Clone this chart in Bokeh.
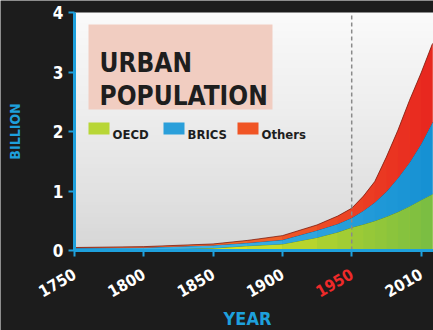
import numpy as np
from math import pi
from bokeh.plotting import figure
from bokeh.models import Label, FixedTicker, BoxAnnotation, Range1d, LinearAxis
from bokeh.embed import file_html
from bokeh.resources import INLINE

# ---------------- data (billion urban dwellers) ----------------
years = [1750, 1800, 1850, 1875, 1900, 1925, 1940, 1950, 1960, 1970, 1980, 1990, 2000, 2010, 2020]
oecd = [0.01, 0.015, 0.04, 0.08, 0.11, 0.22, 0.31, 0.39, 0.44, 0.50, 0.57, 0.65, 0.745, 0.85, 0.95]
brics = [0.03, 0.035, 0.05, 0.05, 0.07, 0.12, 0.14, 0.16, 0.23, 0.31, 0.42, 0.57, 0.735, 0.94, 1.21]
others = [0.01, 0.015, 0.02, 0.04, 0.07, 0.09, 0.13, 0.16, 0.24, 0.35, 0.58, 0.80, 1.04, 1.19, 1.32]
series_names = ["OECD", "BRICS", "Others"]
tick_years = [1750, 1800, 1850, 1900, 1950, 2010]
y_ticks = [0, 1, 2, 3, 4]
highlight_year = 1950

# ---------------- styling ----------------
FONT = "DejaVu Sans Condensed"
CYAN = "#1ea0dc"
BG = "#1c1c1c"
W, H = 433, 330
ORIGIN_PX, ORIGIN_PY = 74, 250      # where (first tick, 0) sits on the canvas
PX_PER_X, PX_PER_Y = 69.3, 59.5
X_END = (W - ORIGIN_PX) / PX_PER_X
Y_END = 4.0

tick_idx = np.arange(len(tick_years), dtype=float)


def year_to_pos(y):
    y = np.asarray(y, dtype=float)
    last_step = tick_years[-1] - tick_years[-2]
    return np.where(y <= tick_years[-1], np.interp(y, tick_years, tick_idx),
                    tick_idx[-1] + (y - tick_years[-1]) / last_step)


def sx(px):  # canvas px -> data x (decorations only)
    return (px - ORIGIN_PX) / PX_PER_X


def sy(py):  # canvas px -> data y (decorations only)
    return (ORIGIN_PY - py) / PX_PER_Y


p = figure(width=W, height=H, output_backend="svg", toolbar_location=None,
           x_range=Range1d(sx(0), sx(W)), y_range=Range1d(sy(H), sy(0)),
           x_axis_location=None, y_axis_location=None,
           min_border=0)
p.border_fill_color = BG
p.background_fill_color = BG
p.outline_line_color = None
p.grid.visible = False

# light gradient backdrop of the chart area
n = 64
rgba = np.zeros((n, 1, 4), dtype=np.uint8)
t = np.linspace(0, 1, n)
lo, hi = np.array([214, 214, 214]), np.array([250, 250, 250])
for i in range(n):
    rgba[i, 0, :3] = (lo + (hi - lo) * t[i] ** 0.8).astype(np.uint8)
rgba[:, :, 3] = 255
img = rgba.view(dtype=np.uint32).reshape((n, 1))
p.image_rgba(image=[img], x=0, y=0, dw=X_END + 0.1, dh=Y_END)


def hex2rgb(h):
    h = h.lstrip("#")
    return np.array([int(h[i:i + 2], 16) for i in (0, 2, 4)], dtype=float)


def mix(c1, c2, f):
    f = min(max(f, 0.0), 1.0)
    c = hex2rgb(c1) * (1 - f) + hex2rgb(c2) * f
    return "#%02x%02x%02x" % tuple(int(round(v)) for v in c)


grads = {
    "OECD": ("#d6e022", "#78bd43", "#56802c", 2.3),
    "BRICS": ("#3cb0e4", "#1590d2", "#1d4f78", 2.3),
    "Others": ("#f06a2a", "#e8261f", "#7e2418", 2.3),
}

xpos = year_to_pos(years)
lower = np.zeros(len(years))
for name, vals in zip(series_names, [oecd, brics, others]):
    upper = lower + np.asarray(vals)
    c_left, c_right, c_line, g0 = grads[name]
    base = mix(c_left, c_right, 0.6)
    p.varea(x=xpos, y1=lower, y2=upper, fill_color=base)
    for i in range(len(years) - 1):
        mid = 0.5 * (xpos[i] + xpos[i + 1])
        col = mix(c_left, c_right, (mid - g0) / (X_END - g0))
        p.varea(x=xpos[i:i + 2], y1=lower[i:i + 2], y2=upper[i:i + 2], fill_color=col)
    p.line(x=xpos, y=upper, line_color=c_line, line_width=1, line_alpha=0.8)
    lower = upper

# dashed 1950 marker
hx = float(year_to_pos(highlight_year))
p.segment(x0=[hx], y0=[0], x1=[hx], y1=[Y_END], line_color="#8a8a8a",
          line_dash="4 3", line_width=1.5)

# title box
p.add_layout(BoxAnnotation(left=sx(88), right=sx(272), top=sy(24), bottom=sy(109),
                           fill_color="#f1cdc1", fill_alpha=1.0, line_color=None))
for txt, base_y in [("URBAN", 62), ("POPULATION", 95)]:
    p.add_layout(Label(x=sx(99), y=sy(base_y), text=txt, text_font=FONT,
                       text_font_style="bold", text_font_size="26px",
                       text_color="#1e1e1e", text_baseline="alphabetic"))

# legend
leg_cols = ["#b8d636", "#2a9fda", "#f05424"]
leg_sw = [88, 163, 237]
for name, col, x0 in zip(series_names, leg_cols, leg_sw):
    p.add_layout(BoxAnnotation(left=sx(x0), right=sx(x0 + 21), top=sy(122), bottom=sy(134),
                               fill_color=col, fill_alpha=1.0, line_color=None))
    p.add_layout(Label(x=sx(x0 + 24), y=sy(134), text=name, text_font=FONT,
                       text_font_style="bold", text_font_size="13px",
                       text_color="#1e1e1e", text_baseline="alphabetic"))


def style_axis(ax, color="white"):
    ax.axis_line_color = CYAN
    ax.axis_line_width = 3
    ax.major_tick_line_color = CYAN
    ax.major_tick_line_width = 2
    ax.major_tick_out = 6
    ax.major_tick_in = 0
    ax.minor_tick_line_color = None
    ax.major_label_text_color = color
    ax.major_label_text_font = FONT
    ax.major_label_text_font_style = "bold"


X_LABEL_SIZE = "16px"
X_STANDOFF = 16

xaxis = LinearAxis(fixed_location=0, bounds=(0, X_END), ticker=FixedTicker(ticks=list(tick_idx)))
style_axis(xaxis)
xaxis.major_label_overrides = {float(i): ("" if y == highlight_year else str(y))
                               for i, y in zip(tick_idx, tick_years)}
xaxis.major_label_orientation = pi / 6
xaxis.major_label_text_font_size = X_LABEL_SIZE
xaxis.major_label_standoff = X_STANDOFF
p.add_layout(xaxis, "below")

# red highlighted tick label (same placement rules as the other ticks)
hl_axis = LinearAxis(fixed_location=0, bounds=(0, X_END), ticker=FixedTicker(ticks=[hx]))
style_axis(hl_axis, "#ee2a2a")
hl_axis.axis_line_color = None
hl_axis.major_tick_line_color = None
hl_axis.major_label_overrides = {hx: str(highlight_year)}
hl_axis.major_label_orientation = pi / 6
hl_axis.major_label_text_font_size = X_LABEL_SIZE
hl_axis.major_label_standoff = X_STANDOFF
p.add_layout(hl_axis, "below")

yaxis = LinearAxis(fixed_location=0, bounds=(0, Y_END), ticker=FixedTicker(ticks=y_ticks))
style_axis(yaxis)
yaxis.major_label_text_font_size = "17px"
yaxis.major_label_standoff = 5
p.add_layout(yaxis, "left")

# axis titles
p.add_layout(Label(x=sx(247), y=sy(318), text="YEAR", text_font=FONT, text_font_style="bold",
                   text_font_size="18px", text_color=CYAN, text_align="center",
                   text_baseline="alphabetic"))
p.add_layout(Label(x=sx(14), y=sy(131), text="BILLION", angle=pi / 2, text_font=FONT,
                   text_font_style="bold", text_font_size="14px", text_color=CYAN,
                   text_align="center", text_baseline="middle"))

open("out.html", "w").write(file_html(p, INLINE))
